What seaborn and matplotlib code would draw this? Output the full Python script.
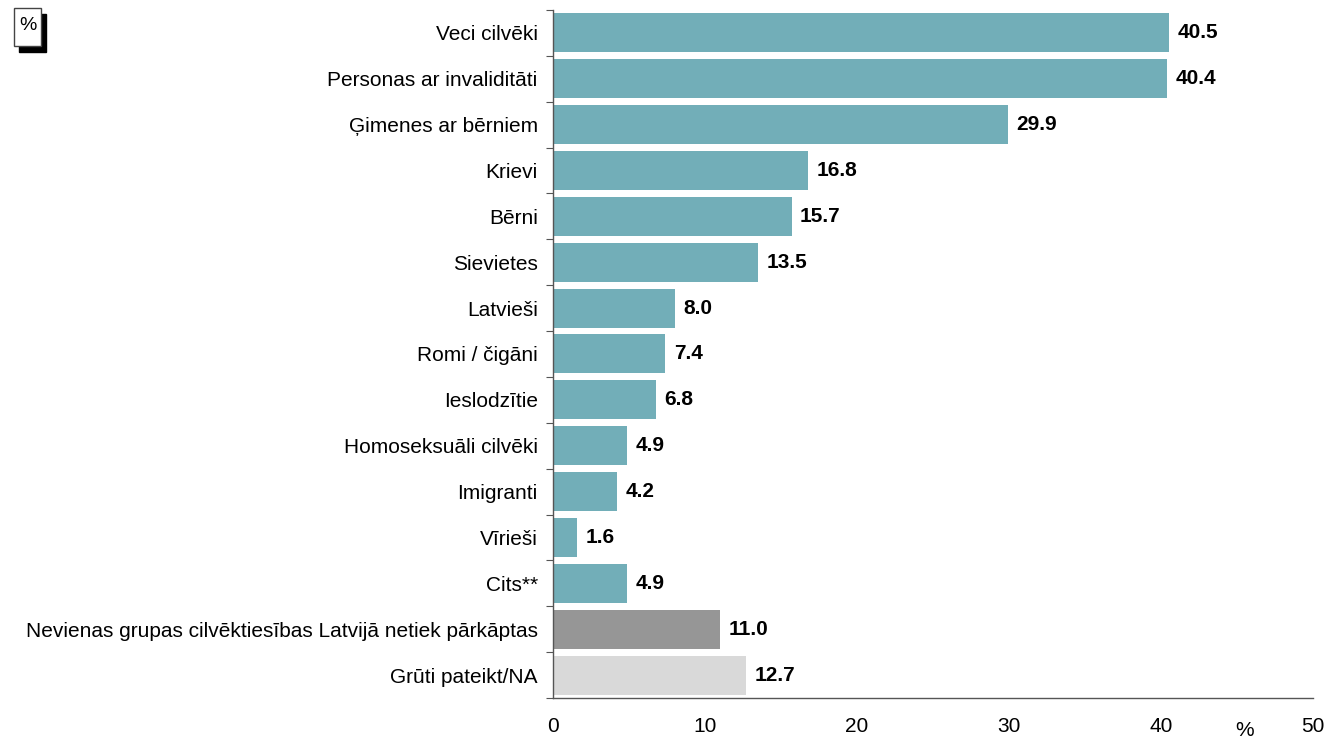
import pandas as pd
import matplotlib.pyplot as plt
import matplotlib.patches as mpatches
import seaborn as sns

# data
groups = ['Veci cilvēki', 'Personas ar invaliditāti', 'Ģimenes ar bērniem', 'Krievi',
          'Bērni', 'Sievietes', 'Latvieši', 'Romi / čigāni', 'Ieslodzītie',
          'Homoseksuāli cilvēki', 'Imigranti', 'Vīrieši', 'Cits**',
          'Nevienas grupas cilvēktiesības Latvijā netiek pārkāptas',
          'Grūti pateikt/NA']
values = [40.5, 40.4, 29.9, 16.8, 15.7, 13.5, 8.0, 7.4, 6.8, 4.9, 4.2, 1.6, 4.9, 11.0, 12.7]
kinds = ['grupa'] * 13 + ['nevienas', 'na']
kind_colors = {'grupa': '#72AEB8', 'nevienas': '#969696', 'na': '#D9D9D9'}

df = pd.DataFrame({'group': groups, 'value': values, 'kind': kinds})

sns.set_style('white')
plt.rcParams['font.family'] = ['Liberation Sans', 'DejaVu Sans']
plt.rcParams['text.color'] = 'black'
plt.rcParams['xtick.color'] = '#555555'
plt.rcParams['ytick.color'] = '#555555'
plt.rcParams['xtick.labelcolor'] = 'black'
plt.rcParams['ytick.labelcolor'] = 'black'

FS = 15

fig = plt.figure(figsize=(13.27, 7.40), dpi=100)
ax = fig.add_axes([0.4167, 0.0568, 0.573, 0.9297])

sns.barplot(data=df, x='value', y='group', hue='kind', palette=kind_colors,
            orient='h', width=0.85, dodge=False, legend=False, ax=ax,
            saturation=1, linewidth=0)

for i, v in enumerate(values):
    ax.text(v + 0.55, i, f'{v:.1f}', va='center', ha='left',
            fontsize=FS, fontweight='bold', color='black')

ax.set_xticks([0, 10, 20, 30, 40, 50])
ax.set_xlabel('')
ax.set_ylabel('')
ax.tick_params(axis='x', labelsize=FS, direction='out', length=5, pad=9)
ax.set_yticks([i - 0.5 for i in range(len(groups) + 1)])
ax.set_yticks(range(len(groups)), labels=groups, minor=True)
ax.tick_params(axis='y', which='major', labelleft=False, left=True,
               direction='out', length=5)
ax.tick_params(axis='y', which='minor', length=0, labelsize=FS, pad=11)
ax.set_xlim(0, 50)
ax.set_ylim(len(groups) - 0.5, -0.5)
for side in ['top', 'right']:
    ax.spines[side].set_visible(False)
for side in ['left', 'bottom']:
    ax.spines[side].set_color('#555555')
    ax.spines[side].set_linewidth(1)

fig.text(1245 / 1327, 1 - 731 / 740, '%', ha='center', va='center', fontsize=FS)

# percentage box in the top-left corner
W, H = 1327, 740
shadow = mpatches.Rectangle((19 / W, 1 - 52 / H), 27 / W, 38 / H,
                            transform=fig.transFigure, facecolor='black',
                            edgecolor='black')
box = mpatches.Rectangle((14 / W, 1 - 46 / H), 27 / W, 38 / H,
                         transform=fig.transFigure, facecolor='white',
                         edgecolor='#444444', linewidth=1)
fig.add_artist(shadow)
fig.add_artist(box)
fig.text(27.5 / W, 1 - 26 / H, '%', ha='center', va='center', fontsize=14)

fig.savefig('out.png', dpi=100)
